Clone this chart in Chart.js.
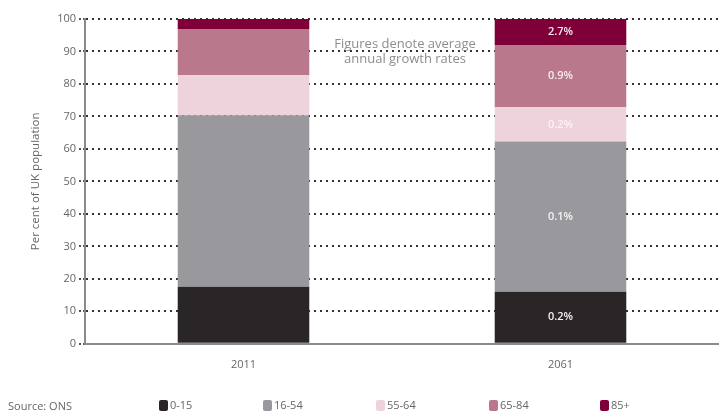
<!DOCTYPE html>
<html>
<head>
<meta charset="utf-8">
<script src="https://cdn.jsdelivr.net/npm/chart.js@4.4.1/dist/chart.umd.min.js"></script>
<style>
	html, body { margin: 0; padding: 0; background: #fff; }
	#wrap { width: 719px; height: 415px; position: relative; }
</style>
</head>
<body>
<div id="wrap"><canvas id="chart"></canvas></div>
<script>
'use strict';

// years on the x axis
const years = ['2011', '2061'];

// age groups, bottom to top
const ageGroups = ['0-15', '16-54', '55-64', '65-84', '85+'];

// per cent of UK population per age group
const share0to15 = [17.6, 16.0];
const share16to54 = [52.8, 46.3];
const share55to64 = [12.3, 10.5];
const share65to84 = [14.2, 19.2];
const share85plus = [3.1, 8.0];

// average annual growth rates, printed on the 2061 bar
const growth0to15 = ['', '0.2%'];
const growth16to54 = ['', '0.1%'];
const growth55to64 = ['', '0.2%'];
const growth65to84 = ['', '0.9%'];
const growth85plus = ['', '2.7%'];

const yTicks = [0, 10, 20, 30, 40, 50, 60, 70, 80, 90, 100];

const colours = ['#2a2627', '#98989d', '#eed3dc', '#b9788b', '#7f0038'];
const labelColours = ['#f4f0f2', '#f4f4f6', '#fbf2f5', '#f6eef1', '#f8eef2'];

const shares = [share0to15, share16to54, share55to64, share65to84, share85plus];
const growth = [growth0to15, growth16to54, growth55to64, growth65to84, growth85plus];

const FONT = '"Open Sans", Lato, sans-serif';

let datasets = ageGroups.map((name, i) => {
	return {
		label: name,
		data: shares[i],
		growth: growth[i],
		backgroundColor: colours[i],
		labelColour: labelColours[i],
		borderWidth: 0,
		categoryPercentage: 1,
		barPercentage: 0.415
	};
});

// growth rate labels in the middle of each segment
const barLabels = {
	id: 'barLabels',
	afterDatasetsDraw(chart) {
		let ctx = chart.ctx;
		ctx.save();
		ctx.font = '600 11px ' + FONT;
		ctx.textAlign = 'center';
		ctx.textBaseline = 'middle';
		chart.data.datasets.forEach((ds, i) => {
			let meta = chart.getDatasetMeta(i);
			meta.data.forEach((bar, j) => {
				let text = ds.growth[j];
				if (!text) {
					return;
				}
				ctx.fillStyle = ds.labelColour;
				ctx.fillText(text, bar.x, (bar.y + bar.base) / 2);
			});
		});
		ctx.restore();
	}
};

// note, source line and legend
const extras = {
	id: 'extras',
	afterDraw(chart) {
		let ctx = chart.ctx;
		ctx.save();
		ctx.font = '13px ' + FONT;
		ctx.fillStyle = '#8d8d92';
		ctx.textAlign = 'center';
		ctx.textBaseline = 'middle';
		ctx.fillText('Figures denote average', 405, 44);
		ctx.fillText('annual growth rates', 405, 59);

		ctx.textAlign = 'left';
		ctx.fillStyle = '#666';
		ctx.font = '11px ' + FONT;
		ctx.fillText('Source: ONS', 8, 407);

		let xs = [159, 263, 376, 489, 600];
		chart.data.datasets.forEach((ds, i) => {
			let x = xs[i];
			ctx.fillStyle = ds.backgroundColor;
			ctx.beginPath();
			ctx.roundRect(x, 400, 9, 11, 2);
			ctx.fill();
			ctx.fillStyle = '#666';
			ctx.fillText(ds.label, x + 11, 406);
		});
		ctx.restore();
	}
};

let chart = new Chart(document.getElementById('chart'), {
	type: 'bar',
	data: {
		labels: years,
		datasets: datasets
	},
	options: {
		responsive: true,
		maintainAspectRatio: false,
		animation: false,
		layout: {
			padding: { top: 19, right: 0, bottom: 38, left: 29 }
		},
		plugins: {
			legend: { display: false },
			tooltip: { enabled: false }
		},
		scales: {
			x: {
				stacked: true,
				grid: { display: false },
				border: { display: true, color: '#8a8a8e', width: 2 },
				ticks: {
					color: '#666',
					font: { family: FONT, size: 11 },
					padding: 6
				}
			},
			y: {
				stacked: true,
				min: 0,
				max: 100,
				afterBuildTicks(scale) {
					scale.ticks = yTicks.map(v => ({ value: v }));
				},
				afterFit(scale) {
					scale.width = 56;
				},
				border: { display: true, color: '#8a8a8e', width: 2, dash: [2, 4] },
				grid: {
					color: '#333',
					lineWidth: 2,
					tickLength: 6,
					tickColor: '#555',
					tickBorderDash: [2, 2]
				},
				ticks: {
					color: '#666',
					font: { family: FONT, size: 11 },
					padding: 3
				},
				title: {
					display: true,
					text: 'Per cent of UK population',
					color: '#666',
					font: { family: FONT, size: 11.5 },
					padding: 0
				}
			}
		}
	},
	plugins: [barLabels, extras]
});
</script>
</body>
</html>
